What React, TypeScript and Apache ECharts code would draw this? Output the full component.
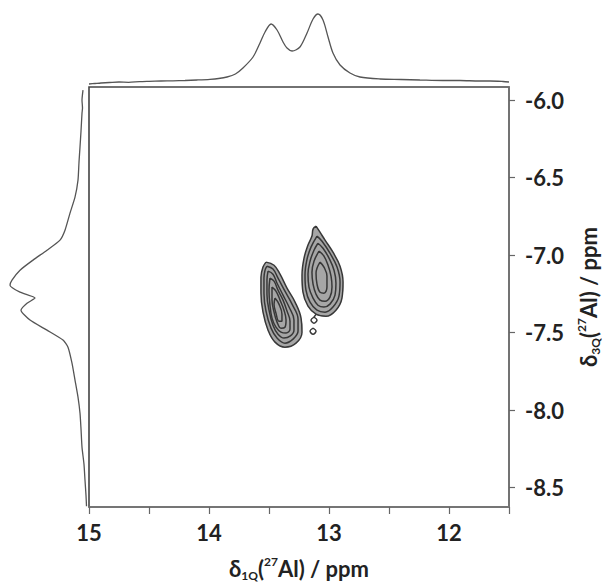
import React, { useEffect, useRef } from "react";
import * as echarts from "echarts";

// ---- axis ranges (ppm) ----
const X_RANGE = [11.5, 15];
const Y_RANGE = [-8.625, -5.915];
const xLabelValues = [15, 14, 13, 12];
const yTickValues = [-6.0, -6.5, -7.0, -7.5, -8.0, -8.5];

// ---- F2 (top) projection: [δ1Q ppm, intensity] ----
const topProjection = [
  [15.0, -3], [14.95, -2.5], [14.9, -2], [14.83, -1.5], [14.75, -1], [14.67, -1.3],
  [14.58, -0.6], [14.5, -0.3], [14.4, 0], [14.3, 0.2], [14.2, 0.5], [14.1, 1],
  [13.992, 1.7], [13.92, 2.5], [13.85, 4], [13.78, 7], [13.717, 13], [13.633, 24],
  [13.575, 38], [13.533, 49], [13.483, 57], [13.433, 51], [13.383, 39], [13.35, 33],
  [13.308, 30], [13.242, 34], [13.183, 48], [13.133, 62], [13.092, 67], [13.05, 61],
  [13.008, 44], [12.967, 28], [12.908, 16], [12.825, 8], [12.742, 4], [12.575, 2],
  [12.4, 1.5], [12.242, 1], [12.05, 0.5], [11.908, 0.5], [11.75, 0], [11.658, 0],
  [11.55, -0.5], [11.5, -1],
];

// ---- F1 (left) projection: [intensity, δ3Q ppm] ----
const leftProjection = [
  [1, -5.935], [2, -6.0], [1.5, -6.05], [2, -6.084], [3, -6.2], [4, -6.303], [5, -6.4],
  [6, -6.516], [9, -6.626], [14, -6.729], [19, -6.839], [24, -6.903], [37, -6.968],
  [51, -7.032], [64, -7.097], [72, -7.161], [74, -7.194], [64, -7.239], [49, -7.277],
  [57, -7.31], [63, -7.355], [54, -7.419], [37, -7.484], [21, -7.548], [16, -7.594],
  [12, -7.697], [9, -7.806], [6, -7.916], [4, -8.019], [3, -8.12], [2, -8.239],
  [0, -8.35], [-1, -8.452], [-2, -8.55], [-2.5, -8.62],
];

// ---- contour rings of site 1 (δ1Q ≈ 13.4 ppm) ----
const site1Rings = [
  [[13.525, -7.045], [13.458, -7.065], [13.408, -7.123], [13.35, -7.213], [13.283, -7.303], [13.233, -7.406], [13.225, -7.497], [13.275, -7.568], [13.367, -7.594], [13.45, -7.561], [13.508, -7.484], [13.55, -7.368], [13.567, -7.245], [13.567, -7.142], [13.55, -7.077], [13.525, -7.045]],
  [[13.517, -7.071], [13.467, -7.09], [13.425, -7.148], [13.367, -7.232], [13.308, -7.316], [13.258, -7.413], [13.258, -7.49], [13.3, -7.542], [13.367, -7.568], [13.433, -7.535], [13.483, -7.471], [13.525, -7.361], [13.542, -7.245], [13.542, -7.148], [13.533, -7.097], [13.517, -7.071]],
  [[13.508, -7.103], [13.467, -7.123], [13.433, -7.181], [13.383, -7.258], [13.333, -7.335], [13.292, -7.419], [13.292, -7.484], [13.325, -7.523], [13.375, -7.535], [13.425, -7.51], [13.467, -7.452], [13.5, -7.355], [13.517, -7.252], [13.517, -7.161], [13.508, -7.103]],
  [[13.492, -7.148], [13.458, -7.168], [13.425, -7.226], [13.383, -7.29], [13.35, -7.361], [13.325, -7.426], [13.325, -7.477], [13.358, -7.503], [13.4, -7.497], [13.442, -7.465], [13.475, -7.406], [13.492, -7.323], [13.5, -7.226], [13.492, -7.148]],
  [[13.475, -7.206], [13.442, -7.232], [13.408, -7.29], [13.375, -7.355], [13.358, -7.419], [13.367, -7.465], [13.4, -7.471], [13.433, -7.432], [13.458, -7.368], [13.475, -7.29], [13.475, -7.206]],
  [[13.45, -7.277], [13.417, -7.316], [13.392, -7.381], [13.392, -7.426], [13.417, -7.426], [13.442, -7.374], [13.458, -7.316], [13.45, -7.277]],
];

// ---- contour rings of site 2 (δ1Q ≈ 13.1 ppm) ----
const site2Rings = [
  [[13.108, -6.813], [13.075, -6.852], [13.033, -6.903], [12.967, -6.981], [12.908, -7.071], [12.883, -7.174], [12.892, -7.277], [12.942, -7.355], [13.025, -7.394], [13.108, -7.381], [13.175, -7.329], [13.217, -7.239], [13.225, -7.129], [13.208, -7.019], [13.175, -6.935], [13.142, -6.877], [13.133, -6.832], [13.108, -6.813]],
  [[13.1, -6.877], [13.058, -6.91], [12.992, -6.987], [12.933, -7.077], [12.908, -7.174], [12.917, -7.265], [12.967, -7.335], [13.033, -7.368], [13.1, -7.355], [13.158, -7.303], [13.192, -7.226], [13.2, -7.129], [13.183, -7.026], [13.15, -6.948], [13.1, -6.877]],
  [[13.092, -6.923], [13.05, -6.955], [13.0, -7.019], [12.958, -7.097], [12.942, -7.181], [12.95, -7.258], [12.992, -7.316], [13.042, -7.335], [13.092, -7.323], [13.133, -7.277], [13.167, -7.206], [13.175, -7.123], [13.158, -7.039], [13.125, -6.968], [13.092, -6.923]],
  [[13.083, -6.974], [13.042, -7.006], [13.008, -7.065], [12.983, -7.135], [12.975, -7.206], [12.992, -7.271], [13.033, -7.297], [13.075, -7.29], [13.108, -7.252], [13.133, -7.187], [13.142, -7.11], [13.125, -7.039], [13.083, -6.974]],
  [[13.075, -7.045], [13.042, -7.077], [13.017, -7.135], [13.017, -7.206], [13.042, -7.245], [13.075, -7.239], [13.1, -7.187], [13.108, -7.116], [13.075, -7.045]],
];

// ---- small tail contours below site 2 ----
const tailRings = [
  [[13.108, -7.381], [13.125, -7.4]],
  [[13.125, -7.4], [13.1, -7.419], [13.125, -7.439], [13.15, -7.419], [13.125, -7.4]],
  [[13.133, -7.471], [13.108, -7.49], [13.133, -7.51], [13.158, -7.49], [13.133, -7.471]],
];

const FONT = 'Lato, "Open Sans", "DejaVu Sans", sans-serif';
const TEXT = "#222";

function buildOption() {
  const outerRings = [site1Rings[0], site2Rings[0]];

  const ringSeries = [...site1Rings, ...site2Rings, ...tailRings].map((ring) => ({
    type: "line",
    xAxisIndex: 0,
    yAxisIndex: 0,
    data: ring,
    symbol: "none",
    smooth: 0.4,
    silent: true,
    lineStyle: { color: "#383838", width: 1.5 },
  }));

  const shadeSeries = {
    type: "custom",
    xAxisIndex: 0,
    yAxisIndex: 0,
    silent: true,
    data: outerRings.map((r, i) => [r[0][0], r[0][1], i]),
    renderItem: (params: any, api: any) => {
      const ring = outerRings[params.dataIndex];
      const points = ring.map((p) => api.coord(p));
      return {
        type: "polygon",
        shape: { points, smooth: 0.4 },
        style: { fill: "#a6a6a6", stroke: "none" },
      };
    },
  };

  const nameRich = {
    a: { fontSize: 22, fontWeight: "bold", fontFamily: FONT, color: TEXT, lineHeight: 26 },
    s: { fontSize: 12, fontWeight: "bold", fontFamily: FONT, color: TEXT, verticalAlign: "bottom", lineHeight: 12 },
    p: { fontSize: 12, fontWeight: "bold", fontFamily: FONT, color: TEXT, verticalAlign: "top", lineHeight: 12 },
  };

  return {
    animation: false,
    backgroundColor: "#fff",
    grid: [
      { left: 89, top: 87, width: 420, height: 420, show: true, borderColor: "#444", borderWidth: 1.6, backgroundColor: "transparent", containLabel: false, outerBoundsMode: "none" },
      { left: 89, top: 0, width: 420, height: 85, outerBoundsMode: "none" },
      { left: 5, top: 87, width: 83, height: 420, outerBoundsMode: "none" },
    ],
    xAxis: [
      {
        gridIndex: 0,
        type: "value",
        min: X_RANGE[0],
        max: X_RANGE[1],
        inverse: true,
        interval: 0.5,
        splitLine: { show: false },
        axisLine: { show: true, lineStyle: { color: "#777", width: 1.5 } },
        axisTick: { show: true, length: 7, lineStyle: { color: "#666", width: 1.2 } },
        axisLabel: {
          showMinLabel: true,
          showMaxLabel: true,
          margin: 14,
          fontSize: 22,
          fontWeight: "bold",
          fontFamily: FONT,
          color: TEXT,
          formatter: (v: number) => (xLabelValues.indexOf(v) >= 0 ? String(v) : ""),
        },
        name: "{a|δ}{s|1Q}{a|(}{p|27}{a|Al) / ppm}",
        nameLocation: "middle",
        nameGap: 48,
        nameTextStyle: { rich: nameRich },
      },
      { gridIndex: 1, type: "value", min: X_RANGE[0], max: X_RANGE[1], inverse: true, show: false },
      { gridIndex: 2, type: "value", min: -4, max: 79, inverse: true, show: false },
    ],
    yAxis: [
      {
        gridIndex: 0,
        type: "value",
        position: "right",
        min: Y_RANGE[0],
        max: Y_RANGE[1],
        splitLine: { show: false },
        axisLine: { show: true, lineStyle: { color: "#777", width: 1.5 } },
        axisTick: { show: true, length: 6, customValues: yTickValues, lineStyle: { color: "#666", width: 1.2 } },
        axisLabel: {
          customValues: yTickValues,
          margin: 16,
          fontSize: 22,
          fontWeight: "bold",
          fontFamily: FONT,
          color: TEXT,
          formatter: (v: number) => v.toFixed(1),
        },
        name: "{a|δ}{s|3Q}{a|(}{p|27}{a|Al) / ppm}",
        nameLocation: "middle",
        nameRotate: 90,
        nameGap: 66,
        nameTextStyle: { rich: nameRich },
      },
      { gridIndex: 1, type: "value", min: -4, max: 81, show: false },
      { gridIndex: 2, type: "value", min: Y_RANGE[0], max: Y_RANGE[1], show: false },
    ],
    series: [
      shadeSeries,
      ...ringSeries,
      {
        type: "line",
        xAxisIndex: 1,
        yAxisIndex: 1,
        data: topProjection,
        symbol: "none",
        smooth: 0.3,
        silent: true,
        lineStyle: { color: "#555", width: 1.3 },
      },
      {
        type: "line",
        xAxisIndex: 2,
        yAxisIndex: 2,
        data: leftProjection,
        symbol: "none",
        smooth: 0.2,
        silent: true,
        lineStyle: { color: "#555", width: 1.3 },
      },
    ],
  };
}

export default function App() {
  const ref = useRef<HTMLDivElement>(null);
  useEffect(() => {
    if (!ref.current) return;
    const chart = echarts.init(ref.current, null, { renderer: "svg" });
    chart.setOption(buildOption() as any);
    return () => chart.dispose();
  }, []);
  return (
    <div
      ref={ref}
      style={{ position: "absolute", left: 0, top: 0, width: 611, height: 584, background: "#fff" }}
    />
  );
}
